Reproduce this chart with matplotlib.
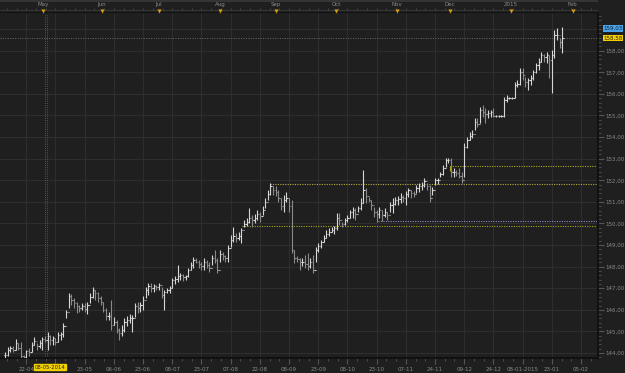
import numpy as np
import matplotlib.pyplot as plt
from matplotlib.ticker import FixedLocator, MultipleLocator, FuncFormatter

# daily bars (high, low, close)
high = [144.05, 144.28, 144.32, 144.32, 144.65, 144.46, 144.51, 143.91, 144.14, 144.23,
        144.51, 144.74, 144.46, 144.60, 144.74, 144.79, 144.97, 144.83, 144.79, 144.70,
        144.97, 144.97, 145.39, 145.99, 146.78, 146.73, 146.55, 146.36, 146.22, 146.32,
        146.32, 146.36, 146.78, 147.06, 146.92, 146.82, 146.64, 146.36, 146.08, 145.90,
        146.45, 145.67, 145.53, 145.16, 145.30, 145.62, 145.71, 145.81, 145.76, 146.32,
        146.36, 146.36, 146.64, 147.06, 147.24, 147.24, 147.20, 147.15, 147.24, 147.06,
        146.92, 147.01, 147.10, 147.47, 147.57, 148.07, 147.70, 147.66, 147.61, 147.94,
        148.21, 148.45, 148.40, 148.31, 148.21, 148.40, 148.31, 148.21, 148.54, 148.77,
        148.40, 148.77, 148.68, 148.54, 149.00, 149.46, 149.83, 149.56, 149.60, 149.79,
        150.16, 150.25, 150.71, 150.39, 150.44, 150.62, 150.53, 150.81, 151.18, 151.55,
        151.87, 151.73, 151.73, 151.55, 151.18, 151.32, 151.45, 151.18, 151.08, 148.77,
        148.49, 148.40, 148.40, 148.54, 148.63, 148.40, 148.54, 148.91, 149.09, 149.23,
        149.46, 149.70, 149.79, 149.83, 149.88, 150.48, 150.48, 150.07, 150.25, 150.39,
        150.62, 150.76, 150.71, 150.81, 151.18, 152.47, 151.64, 151.22, 151.08, 150.76,
        150.62, 150.76, 150.62, 150.71, 150.53, 150.99, 151.18, 151.22, 151.27, 151.41,
        151.32, 151.50, 151.64, 151.55, 151.50, 151.78, 151.87, 151.92, 152.10, 151.87,
        151.78, 151.69, 152.10, 152.10, 152.38, 152.70, 153.03, 153.03, 153.03, 152.57,
        152.47, 152.57, 152.38, 153.72, 154.00, 154.23, 154.32, 154.88, 154.88, 155.39,
        155.48, 155.34, 155.25, 155.25, 155.34, 155.02, 155.02, 155.02, 155.85, 155.95,
        155.85, 155.85, 156.55, 156.64, 157.20, 157.20, 156.78, 156.73, 156.87, 157.10,
        157.43, 157.66, 157.94, 157.84, 157.94, 157.80, 158.03, 158.95, 159.05, 158.58,
        159.09]
low = [143.77, 143.86, 144.05, 144.05, 144.14, 144.14, 143.77, 143.77, 143.77, 143.86,
       144.05, 144.37, 144.14, 144.23, 144.14, 144.51, 144.14, 144.37, 144.37, 144.37,
       144.51, 144.60, 144.74, 145.62, 146.08, 146.22, 146.08, 145.85, 145.90, 145.99,
       145.90, 145.81, 146.32, 146.55, 146.45, 146.36, 146.22, 145.90, 145.53, 145.53,
       145.07, 145.30, 144.93, 144.60, 144.79, 144.97, 145.25, 145.39, 144.97, 145.67,
       145.85, 145.90, 145.99, 146.55, 146.69, 146.82, 146.82, 146.92, 146.92, 146.55,
       145.99, 146.78, 146.78, 147.01, 147.20, 147.29, 147.38, 147.33, 147.38, 147.52,
       147.84, 147.94, 148.17, 147.94, 147.84, 147.84, 147.94, 147.75, 148.07, 148.17,
       147.70, 148.21, 148.31, 148.21, 148.21, 148.91, 149.14, 149.14, 149.23, 149.09,
       149.83, 149.88, 150.02, 149.83, 150.02, 150.16, 150.07, 150.39, 150.71, 151.08,
       151.32, 151.32, 151.27, 150.99, 150.62, 150.53, 150.99, 150.53, 148.63, 148.17,
       148.21, 147.84, 148.03, 147.94, 147.84, 147.94, 147.70, 148.21, 148.68, 148.86,
       149.14, 149.32, 149.42, 149.60, 149.51, 149.70, 149.93, 149.83, 149.93, 150.07,
       150.25, 150.25, 150.16, 150.53, 150.62, 150.95, 150.95, 150.99, 150.62, 150.30,
       150.07, 150.25, 150.11, 150.30, 150.16, 150.53, 150.48, 150.85, 150.85, 150.95,
       150.99, 150.85, 151.22, 151.18, 151.22, 151.41, 151.45, 151.55, 151.69, 151.55,
       150.99, 151.32, 151.78, 151.82, 152.15, 152.24, 152.61, 152.80, 152.15, 152.15,
       152.19, 152.10, 151.87, 152.15, 153.49, 153.86, 153.95, 154.32, 154.46, 154.65,
       154.93, 154.65, 154.88, 154.93, 154.93, 154.93, 154.93, 154.93, 154.93, 155.62,
       155.76, 155.76, 155.81, 156.32, 156.41, 156.64, 156.32, 156.18, 156.41, 156.64,
       156.96, 157.10, 157.47, 157.47, 157.43, 156.73, 156.04, 157.66, 158.49, 158.12,
       157.89]
close = [143.91, 144.14, 144.23, 144.14, 144.46, 144.23, 143.86, 143.82, 144.09, 144.05,
         144.37, 144.56, 144.32, 144.46, 144.65, 144.60, 144.79, 144.60, 144.70, 144.51,
         144.83, 144.88, 145.25, 145.90, 146.64, 146.45, 146.32, 146.18, 146.08, 146.18,
         146.04, 146.22, 146.59, 146.92, 146.78, 146.55, 146.36, 145.99, 145.71, 145.71,
         145.30, 145.44, 145.07, 144.93, 145.07, 145.44, 145.53, 145.62, 145.62, 146.18,
         146.08, 146.22, 146.45, 146.92, 147.10, 147.01, 147.10, 147.06, 147.15, 146.69,
         146.82, 146.92, 147.01, 147.38, 147.43, 147.57, 147.61, 147.52, 147.57, 147.84,
         148.07, 148.31, 148.21, 148.12, 148.03, 148.21, 148.07, 147.94, 148.40, 148.31,
         147.84, 148.58, 148.49, 148.40, 148.86, 149.23, 149.42, 149.32, 149.42, 149.70,
         149.97, 150.07, 150.25, 150.16, 150.25, 150.44, 150.34, 150.62, 150.99, 151.36,
         151.73, 151.55, 151.45, 151.18, 150.81, 151.08, 151.18, 150.81, 148.77, 148.40,
         148.35, 148.21, 148.21, 148.12, 148.03, 148.21, 147.84, 148.77, 148.95, 149.14,
         149.32, 149.51, 149.60, 149.70, 149.79, 150.25, 150.16, 149.97, 150.16, 150.25,
         150.53, 150.62, 150.44, 150.71, 150.95, 151.55, 151.27, 151.08, 150.85, 150.53,
         150.44, 150.62, 150.39, 150.53, 150.39, 150.85, 150.90, 151.08, 151.13, 151.22,
         151.18, 151.36, 151.55, 151.41, 151.36, 151.64, 151.73, 151.78, 151.96, 151.73,
         151.18, 151.55, 152.01, 152.01, 152.29, 152.57, 152.94, 152.94, 152.38, 152.38,
         152.33, 152.19, 152.01, 153.54, 153.86, 154.05, 154.14, 154.70, 154.60, 155.25,
         155.16, 155.07, 155.11, 155.16, 154.97, 154.97, 154.97, 154.97, 155.71, 155.81,
         155.81, 155.81, 156.41, 156.45, 157.01, 156.87, 156.55, 156.64, 156.73, 157.01,
         157.33, 157.47, 157.80, 157.70, 157.80, 157.57, 157.80, 158.72, 158.72, 158.40,
         158.58]

date_labels = ['07-04', '22-04', '08-05', '23-05', '06-06', '23-06', '08-07', '23-07', '07-08',
               '22-08', '08-09', '23-09', '08-10', '23-10', '07-11', '24-11', '09-12',
               '24-12', '08-01-2015', '23-01', '05-02']
months = ['May', 'Jun', 'Jul', 'Aug', 'Sep', 'Oct', 'Nov', 'Dec', '2015', 'Feb']
month_pos = [14.3, 36.5, 58.0, 81.0, 102.0, 124.7, 147.6, 167.6, 190.6, 213.9]
cursor_pos = 15.4
cursor_label = '08-05-2014'
last_price = 158.58
last_high = 159.03

# support / resistance levels: (price, start bar, colour)
levels = [(151.85, 99.8, '#b5ae3a'), (149.86, 89.3, '#a8a41e'),
          (150.11, 140.5, '#8c8cc8'), (152.66, 167.6, '#b0a81c')]

bg = '#1f1f1f'
W, H = 625, 373
fs = 4.0
fig = plt.figure(figsize=(W / 100, H / 100), dpi=100, facecolor=bg)

x0, x1 = -1.9, 223.4
ax = fig.add_axes([0, 15 / H, 598 / W, (358 - 14) / H], facecolor=bg)
ax.set_xlim(x0, x1)
ax.set_ylim(143.77, 159.70)

idx = np.arange(len(close))
close_a = np.array(close)
prev = np.concatenate([[close_a[0]], close_a[:-1]])
colors = np.where(close_a >= prev, '#d6d6d6', '#8a8a8a')
ax.vlines(idx, low, high, colors=colors, lw=0.8, zorder=3)
ax.hlines(close, idx, idx + 0.45, colors=colors, lw=0.8, zorder=3)
ax.hlines(prev, idx - 0.45, idx, colors=colors, lw=0.8, zorder=3)

# level lines
for price, start, col in levels:
    ax.hlines(price, start, x1, colors=col, lw=0.8, linestyles=(0, (1, 1.2)), zorder=2)
ax.vlines(167.6, 152.66, 152.45, colors='#b0a81c', lw=0.8, zorder=2)
ax.axhline(last_price, color='#6a6a6a', lw=0.7, ls=(0, (1, 1.5)), zorder=2)
ax.axvline(cursor_pos - 0.3, color='#555555', lw=0.7, ls=(0, (1, 1.2)), zorder=2)
ax.axvline(cursor_pos + 0.4, color='#555555', lw=0.7, ls=(0, (1, 1.2)), zorder=2)

# grid
tick_pos = [-3 + 11 * k for k in range(len(date_labels))]
for p in tick_pos:
    ax.axvline(p, color='#2e2e2e', lw=0.8, zorder=1)
for yv in range(144, 160):
    ax.axhline(yv, color='#2e2e2e', lw=0.8, zorder=1)

# axes styling
for s in ['top', 'left']:
    ax.spines[s].set_visible(False)
ax.spines['right'].set_color('#111111')
ax.spines['bottom'].set_color('#111111')
ax.spines['right'].set_linewidth(1.5)
ax.spines['bottom'].set_linewidth(1.5)

shown = [l if l != '08-05' else '' for l in date_labels]
ax.xaxis.set_major_locator(FixedLocator(tick_pos))
ax.set_xticklabels(shown)
ax.xaxis.set_minor_locator(FixedLocator([-3 + 11 / 3 * k for k in range(62)]))
ax.tick_params(axis='x', which='major', length=4, color='#555555', labelsize=fs,
               labelcolor='#8a8a8a', pad=2.5)
ax.tick_params(axis='x', which='minor', length=2, color='#555555')

ax.yaxis.tick_right()
ax.yaxis.set_major_locator(FixedLocator(range(144, 159)))
ax.yaxis.set_minor_locator(MultipleLocator(0.2))
ax.yaxis.set_major_formatter(FuncFormatter(lambda v, p: f'{v:.2f}'.replace('.', ',')))
ax.tick_params(axis='y', which='major', length=4, color='#555555', labelsize=fs,
               labelcolor='#8a8a8a', pad=1.5)
ax.tick_params(axis='y', which='minor', length=2, color='#555555')

# price tags on the right axis
ax.text(1.009, last_high, f'{last_high:.2f}'.replace('.', ','), transform=ax.get_yaxis_transform(),
        fontsize=fs, color='#0c2038', va='center', ha='left',
        bbox=dict(boxstyle='square,pad=0.12', fc='#4aa3e8', ec='none'))
ax.text(1.009, last_price, f'{last_price:.2f}'.replace('.', ','), transform=ax.get_yaxis_transform(),
        fontsize=fs, color='#2a2000', va='center', ha='left',
        bbox=dict(boxstyle='square,pad=0.12', fc='#f2d000', ec='none'))

# cursor date tag on the bottom axis
ax.text(cursor_pos + 1.4, -0.027, cursor_label, transform=ax.get_xaxis_transform(),
        fontsize=3.8, color='#202020', va='center', ha='center',
        bbox=dict(boxstyle='square,pad=0.12', fc='#f2d000', ec='#f2d000'))

# header strip with month markers
hx = fig.add_axes([0, (H - 13) / H, 598 / W, 13 / H], facecolor='#232323')
hx.set_xlim(x0, x1)
hx.set_ylim(13, 0)
hx.axis('off')
hx.axhline(0.6, color='#3a3a3a', lw=1.2)
hx.axhline(12.5, color='#111111', lw=1.2)
for k in range(62):
    hx.vlines(-3 + 11 / 3 * k, 8.0, 9.8, color='#4a4a4a', lw=0.6)
hx.hlines(9.5, x0, x1, color='#3a3a3a', lw=0.6)
for m, p in zip(months, month_pos):
    hx.text(p, 4.8, m, fontsize=fs, color='#8a8a8a', ha='center', va='center')
hx.scatter(month_pos, [10.6] * len(month_pos), marker='v', s=9, color='#d69c12',
           linewidths=0, zorder=3)

fig.savefig('out.png', dpi=100, facecolor=bg)
